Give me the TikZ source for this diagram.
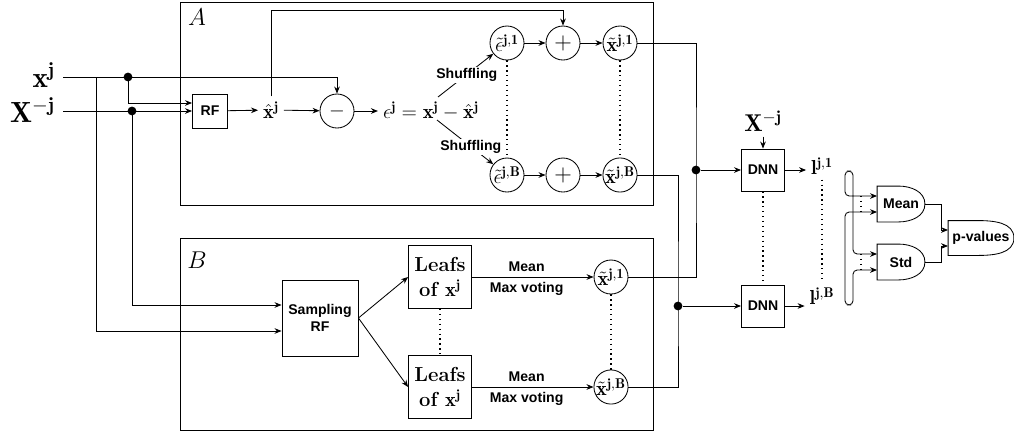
\documentclass[tikz,border=0pt]{standalone}
\usepackage{amsmath}
\usepackage{fontspec}
\setsansfont{Liberation Sans}
\usetikzlibrary{arrows.meta,positioning,calc}

\newcommand{\gateline}[1]{%
  \draw (#1.south west) -- (#1.north west) -- ($(#1.north west)!0.45!(#1.north east)$)
    to[out=0,in=90] (#1.east) to[out=-90,in=0] ($(#1.south west)!0.45!(#1.south east)$) -- cycle;}

\begin{document}
\begin{tikzpicture}[x=0.025cm,y=-0.025cm,line width=0.6pt,>={Stealth[length=5pt,width=4pt]},
    box/.style={draw,font=\sffamily\bfseries,align=center,inner sep=1pt},
    circ/.style={draw,circle,minimum size=0.85cm,inner sep=0pt},
    dot/.style={circle,fill,inner sep=0pt,minimum size=0.22cm},
    gate/.style={font=\sffamily\bfseries,minimum width=1.175cm,minimum height=0.875cm,inner sep=0pt},
    lbl/.style={font=\sffamily\bfseries},
    dotline/.style={line width=0.9pt,dash pattern=on 0.9pt off 2.6pt}]
    \useasboundingbox (0,0) rectangle (1014,436);

    % frames
    \draw (180,2) rectangle (653,205);
    \draw (180,238) rectangle (653,430);
    \node (lab_A) at (197,17) {\LARGE $A$};
    \node (lab_B) at (197,260) {\LARGE $B$};

    % inputs
    \node[anchor=base east] (x_j) at (60,87) {\huge $\mathbf{x}^{\mathbf{j}}$};
    \node[anchor=base east] (X_j) at (60,122) {\huge $\mathbf{X}^{-\mathbf{j}}$};
    \coordinate (x_in) at (63,77);
    \coordinate (X_in) at (63,111);
    \coordinate (t_1) at (96,77);
    \coordinate (top_A) at (0,10);
    \node[dot] (d_1) at (128,77) {};
    \node[dot] (d_2) at (132,111) {};

    % part A
    \node[box,minimum width=0.875cm,minimum height=0.85cm] (rf) at (210,111) {RF};
    \node (xh) at (271,110) {\Large $\hat{\mathbf{x}}^{\mathbf{j}}$};
    \node[circ] (minus) at (337,111) {\Large $-$};
    \node (eps) at (431,111) {\Large $\epsilon^{\mathbf{j}}=\mathbf{x}^{\mathbf{j}}-\hat{\mathbf{x}}^{\mathbf{j}}$};
    \coordinate (s_1) at (438,97);
    \coordinate (s_B) at (437,120);
    \node[circ] (eps_1) at (507,43) {\Large $\tilde{\epsilon}^{\mathbf{j,1}}$};
    \node[circ] (eps_B) at (507,175) {\Large $\tilde{\epsilon}^{\mathbf{j,B}}$};
    \node[circ] (plus_1) at (563,43) {\LARGE $+$};
    \node[circ] (plus_B) at (563,175) {\LARGE $+$};
    \node[circ] (xt_1) at (620,43) {\Large $\tilde{\mathbf{x}}^{\mathbf{j,1}}$};
    \node[circ] (xt_B) at (620,175) {\Large $\tilde{\mathbf{x}}^{\mathbf{j,B}}$};

    % part B
    \node[box,minimum size=1.9cm] (samp) at (320,318) {Sampling\\RF};
    \node[box,font=\Large\bfseries\rmfamily,minimum size=1.575cm] (leaf_1) at (440,277) {Leafs\\of $\mathbf{x}^{\mathbf{j}}$};
    \node[box,font=\Large\bfseries\rmfamily,minimum size=1.575cm] (leaf_B) at (440,387) {Leafs\\of $\mathbf{x}^{\mathbf{j}}$};
    \node[circ] (xb_1) at (611,277) {\Large $\tilde{\mathbf{x}}^{\mathbf{j,1}}$};
    \node[circ] (xb_B) at (611,387) {\Large $\tilde{\mathbf{x}}^{\mathbf{j,B}}$};

    % networks and tests
    \node[dot] (d_3) at (696,170) {};
    \node[dot] (d_4) at (678,306) {};
    \node[box,minimum width=1.075cm,minimum height=1.05cm] (dnn_1) at (763,170) {DNN};
    \node[box,minimum width=1.075cm,minimum height=1.05cm] (dnn_B) at (763,306) {DNN};
    \node (X_dnn) [above=0.3cm of dnn_1] {\LARGE $\mathbf{X}^{-\mathbf{j}}$};
    \node (l_1) at (822,166) {\Large $\mathbf{l}^{\mathbf{j,1}}$};
    \node (l_B) at (822,296) {\Large $\mathbf{l}^{\mathbf{j,B}}$};
    \node[gate] (mean) at (901,204) {Mean};
    \node[gate] (std) at (901,262) {Std};
    \node[gate,minimum width=1.625cm,minimum height=0.85cm] (pval) at (981,238) {p-values};
    \gateline{mean}
    \gateline{std}
    \gateline{pval}
    \coordinate (br_t) at (845,171);
    \coordinate (br_b) at (845,305);

    % connections
    \draw[->] (x_in) -| (minus.north);
    \draw[->] (d_1.center) |- ([yshift=0.2cm]rf.west);
    \draw[->] (X_in) -- (rf.west);
    \draw[->] (d_2.center) |- ([yshift=0.325cm]samp.west);
    \draw[->] (t_1) |- ([yshift=-0.325cm]samp.west);
    \draw[->] (xh.north) |- (plus_1.north |- top_A) -- (plus_1.north);
    \path[->] (rf) edge (xh)
        (xh) edge (minus)
        (minus) edge (eps)
        (eps_1) edge (plus_1)
        (plus_1) edge (xt_1)
        (eps_B) edge (plus_B)
        (plus_B) edge (xt_B);
    \draw[->] (s_1) -- node[lbl,fill=white,inner sep=1pt,pos=0.52] {Shuffling} (eps_1);
    \draw[->] (s_B) -- node[lbl,fill=white,inner sep=1pt,pos=0.6] {Shuffling} (eps_B);
    \draw[dotline] (eps_1) -- (eps_B) (xt_1) -- (xt_B);

    \path[->] (samp.east) edge (leaf_1.west)
        (samp.east) edge (leaf_B.west)
        (leaf_1) edge node[lbl,above,pos=0.45] {Mean} node[lbl,below,pos=0.45] {Max voting} (xb_1)
        (leaf_B) edge node[lbl,above,pos=0.45] {Mean} node[lbl,below,pos=0.45] {Max voting} (xb_B);
    \draw[dotline] (leaf_1) -- (leaf_B) (xb_1) -- (xb_B);

    \draw (xt_1.east) -| (d_3.center) |- (xb_1.east);
    \draw (xt_B.east) -| (d_4.center) |- (xb_B.east);
    \path[->] (d_3) edge (dnn_1)
        (d_4) edge (dnn_B)
        (X_dnn) edge (dnn_1);
    \draw[->] (dnn_1.east) -- (dnn_1.east -| l_1.west);
    \draw[->] (dnn_B.east) -- (dnn_B.east -| l_B.west);
    \draw[dotline] (dnn_1) -- (dnn_B) (l_1) -- (l_B);

    \draw[<->,rounded corners=3pt] ([yshift=0.2cm]mean.west) -| (br_t) -- ++(8,0) |- ([yshift=0.2cm]std.west);
    \draw[<->,rounded corners=3pt] ([yshift=-0.2cm]mean.west) -| (br_b) -- ++(8,0) |- ([yshift=-0.2cm]std.west);
    \draw[dotline] ([xshift=-0.4cm,yshift=0.2cm]mean.west) -- ([xshift=-0.4cm,yshift=-0.2cm]mean.west);
    \draw[dotline] ([xshift=-0.4cm,yshift=0.2cm]std.west) -- ([xshift=-0.4cm,yshift=-0.2cm]std.west);
    \draw[->] (mean.east) -- ++(16,0) |- ([yshift=0.2cm]pval.west);
    \draw[->] (std.east) -- ++(16,0) |- ([yshift=-0.2cm]pval.west);
\end{tikzpicture}
\end{document}
